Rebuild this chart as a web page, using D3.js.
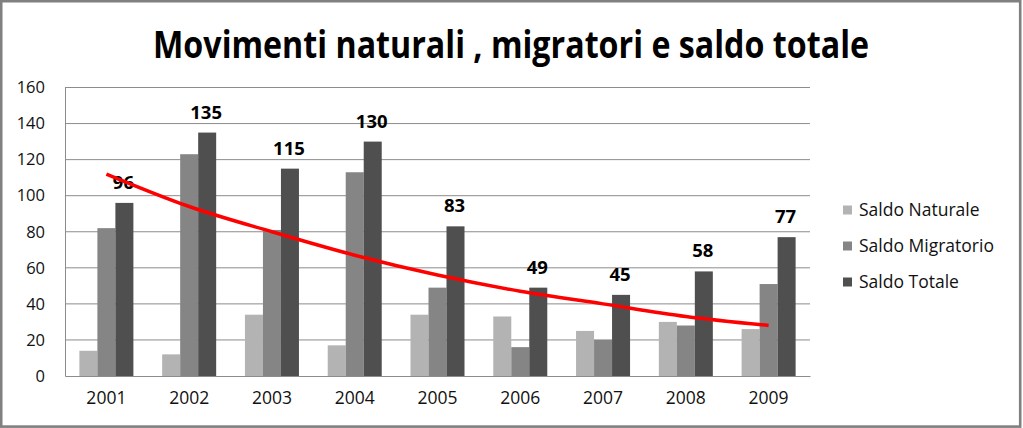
<!DOCTYPE html>
<html>
<head>
<meta charset="utf-8">
<script src="https://cdn.jsdelivr.net/npm/d3@7"></script>
<style>
  html, body { margin: 0; padding: 0; background: #fff; }
  svg { display: block; }
</style>
</head>
<body>
<svg id="chart" width="1023" height="428"></svg>
<script>
// data
const years = ["2001", "2002", "2003", "2004", "2005", "2006", "2007", "2008", "2009"];
const saldoNaturale = [14, 12, 34, 17, 34, 33, 25, 30, 26];
const saldoMigratorio = [82, 123, 81, 113, 49, 16, 20, 28, 51];
const saldoTotale = [96, 135, 115, 130, 83, 49, 45, 58, 77];
// red trend line, sampled at each year
const trendTotale = [112, 94, 80, 67, 56, 47, 40, 33, 28];
const yTicks = [0, 20, 40, 60, 80, 100, 120, 140, 160];

const seriesNames = ["Saldo Naturale", "Saldo Migratorio", "Saldo Totale"];
const seriesColors = ["#b3b3b3", "#858585", "#4f4f4f"];

const svgEl = document.getElementById("chart");
const svg = d3.select(svgEl);
const width = 1023, height = 428;
const margin = { top: 87.5, right: 213, bottom: 52, left: 65 };
const innerWidth = width - margin.left - margin.right;
const innerHeight = height - margin.top - margin.bottom;
const font = "'Open Sans', sans-serif";

// outer frame
svg.append("rect")
  .attr("x", 1.2).attr("y", 1.2)
  .attr("width", width - 4).attr("height", height - 2.6)
  .attr("fill", "none")
  .attr("stroke", "#808080")
  .attr("stroke-width", 2.6);

// title
svg.append("text")
  .attr("x", 511).attr("y", 58)
  .attr("text-anchor", "middle")
  .attr("font-family", font)
  .attr("font-weight", 700)
  .attr("font-size", 37)
  .attr("textLength", 716)
  .attr("lengthAdjust", "spacingAndGlyphs")
  .attr("fill", "#000")
  .text("Movimenti naturali , migratori e saldo totale");

const g = svg.append("g")
  .attr("transform", `translate(${margin.left},${margin.top})`);

const x = d3.scaleBand().domain(years).range([0, innerWidth]);
const xSub = d3.scaleBand().domain(seriesNames).range([0, 54]);
const y = d3.scaleLinear().domain([0, 160]).range([innerHeight, 0]);

// gridlines
g.append("g")
  .selectAll("line")
  .data(yTicks.filter(d => d > 0))
  .join("line")
  .attr("x1", 0).attr("x2", innerWidth)
  .attr("y1", d => y(d)).attr("y2", d => y(d))
  .attr("stroke", "#8c8c8c")
  .attr("stroke-width", 1);

// y axis
const yAxisG = g.append("g")
  .attr("font-family", font)
  .attr("font-size", 16.5)
  .call(d3.axisLeft(y).tickValues(yTicks).tickSize(0).tickPadding(20));
yAxisG.select(".domain").attr("stroke", "#8c8c8c");
yAxisG.selectAll("text").attr("fill", "#111");

// x axis
const xAxisG = g.append("g")
  .attr("transform", `translate(0,${innerHeight})`)
  .call(d3.axisBottom(x).tickSize(0).tickPadding(16))
  .attr("font-family", font)
  .attr("font-size", 17.5);
xAxisG.select(".domain").attr("stroke", "#8c8c8c");
xAxisG.selectAll("text").attr("fill", "#111");
yAxisG.attr("font-family", font).attr("font-size", 16.5);

// bars
const groups = g.append("g")
  .selectAll("g")
  .data(years.map((yr, i) => ({ yr, vals: [saldoNaturale[i], saldoMigratorio[i], saldoTotale[i]] })))
  .join("g")
  .attr("transform", d => `translate(${x(d.yr) + (x.bandwidth() - 54) / 2},0)`);

groups.selectAll("rect")
  .data(d => d.vals.map((v, k) => ({ name: seriesNames[k], v, k })))
  .join("rect")
  .attr("x", d => xSub(d.name))
  .attr("width", xSub.bandwidth())
  .attr("y", d => y(d.v))
  .attr("height", d => innerHeight - y(d.v))
  .attr("fill", d => seriesColors[d.k]);

// value labels on totale
groups.append("text")
  .attr("x", xSub("Saldo Totale") + xSub.bandwidth() / 2 - 1)
  .attr("y", (d) => y(d.vals[2]) - 14)
  .attr("text-anchor", "middle")
  .attr("font-family", font)
  .attr("font-weight", 700)
  .attr("font-size", 18.5)
  .attr("fill", "#000")
  .text(d => d.vals[2]);

// trend line
const line = d3.line()
  .x((d, i) => x(years[i]) + x.bandwidth() / 2)
  .y(d => y(d))
  .curve(d3.curveMonotoneX);

g.append("path")
  .datum(trendTotale)
  .attr("fill", "none")
  .attr("stroke", "#ff0000")
  .attr("stroke-width", 3.5)
  .attr("d", line);

// legend
const legend = svg.append("g")
  .attr("transform", "translate(843,210)");
const items = legend.selectAll("g")
  .data(seriesNames)
  .join("g")
  .attr("transform", (d, i) => `translate(0,${i * 36})`);
items.append("rect")
  .attr("x", 0).attr("y", -4.5)
  .attr("width", 9).attr("height", 9)
  .attr("fill", (d, i) => seriesColors[i]);
items.append("text")
  .attr("x", 16).attr("y", 0)
  .attr("dy", "0.35em")
  .attr("font-family", font)
  .attr("font-size", 17.5)
  .attr("fill", "#111")
  .text(d => d);
</script>
</body>
</html>
